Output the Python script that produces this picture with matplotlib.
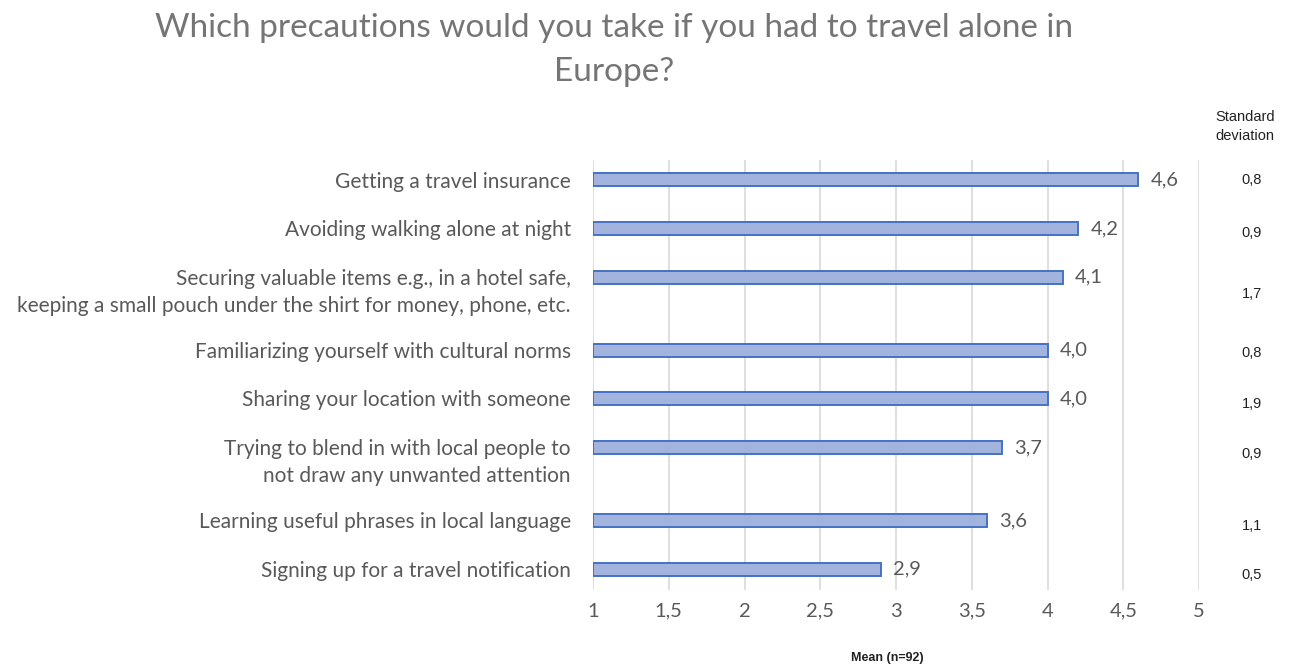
import matplotlib
matplotlib.use("Agg")
import matplotlib.pyplot as plt
import matplotlib.transforms as mtransforms

# Survey answers, mean score on a 1-5 scale (n=92)
precautions = [
    "Getting a travel insurance",
    "Avoiding walking alone at night",
    "Securing valuable items e.g., in a hotel safe,\nkeeping a small pouch under the shirt for money, phone, etc.",
    "Familiarizing yourself with cultural norms",
    "Sharing your location with someone",
    "Trying to blend in with local people to\nnot draw any unwanted attention",
    "Learning useful phrases in local language",
    "Signing up for a travel notification",
]
means = [4.6, 4.2, 4.1, 4.0, 4.0, 3.7, 3.6, 2.9]
std_devs = [0.8, 0.9, 1.7, 0.8, 1.9, 0.9, 1.1, 0.5]
x_ticks = [1, 1.5, 2, 2.5, 3, 3.5, 4, 4.5, 5]

# row layout: two-line labels take extra room
rows = [0, 1, 2, 3.5, 4.5, 5.5, 7, 8]
sd_rows = [0, 1.09, 2.35, 3.56, 4.61, 5.64, 7.12, 8.13]

gray = "#595959"
plt.rcParams["font.family"] = ["Lato", "DejaVu Sans"]


def comma(v):
    return f"{v:.1f}".replace(".", ",")


fig = plt.figure(figsize=(12.9, 6.66), dpi=100)
ax = fig.add_axes([0.4597, 0.1141, 0.4698, 0.6457])

ax.barh(rows, [m - 1 for m in means], left=1, height=0.27,
        color="#a2b4de", edgecolor="#4472c4", linewidth=1.4, zorder=3)

ax.set_xlim(1, 5)
ax.set_ylim(8.43, -0.41)
ax.set_xticks(x_ticks)
ax.set_xticklabels([comma(t) if t % 1 else str(int(t)) for t in x_ticks])
ax.tick_params(axis="x", length=0, pad=9, labelsize=14.5, labelcolor=gray)
ax.set_yticks([])
ax.grid(axis="x", color="#d9d9d9", linewidth=1.2, zorder=0)
for s in ax.spines.values():
    s.set_visible(False)

# value labels
for r, m in zip(rows, means):
    ax.annotate(comma(m), (m, r), xytext=(9, 0), textcoords="offset points",
                va="center", ha="left", fontsize=14.5, color=gray)

# category labels, first line level with the bar
lbl = mtransforms.blended_transform_factory(ax.transAxes, ax.transData)
for r, name in zip(rows, precautions):
    ax.annotate(name, (0, r), xycoords=lbl, xytext=(-16, 6),
                textcoords="offset points", ha="right", va="top",
                fontsize=15, color=gray, linespacing=1.45)

# standard deviation column
for r, sd in zip(sd_rows, std_devs):
    ax.annotate(comma(sd), (1.0, r), xycoords=lbl, xytext=(38, 0),
                textcoords="offset points", ha="center", va="center",
                fontsize=10.5, color="#222222", family=["Liberation Sans", "DejaVu Sans"])
fig.text(0.965, 0.81, "Standard\ndeviation", ha="center", va="center",
         fontsize=10.5, color="#222222", linespacing=1.45,
         family=["Liberation Sans", "DejaVu Sans"])

fig.text(0.688, 0.003, "Mean (n=92)", ha="center", va="bottom",
         fontsize=9, color="#222222", fontweight="bold",
         family=["Liberation Sans Narrow", "Liberation Sans", "DejaVu Sans"])

fig.text(0.476, 0.925, "Which precautions would you take if you had to travel alone in\nEurope?",
         ha="center", va="center", fontsize=24, color="#757575", linespacing=1.6)

fig.savefig("out.png", dpi=100)
